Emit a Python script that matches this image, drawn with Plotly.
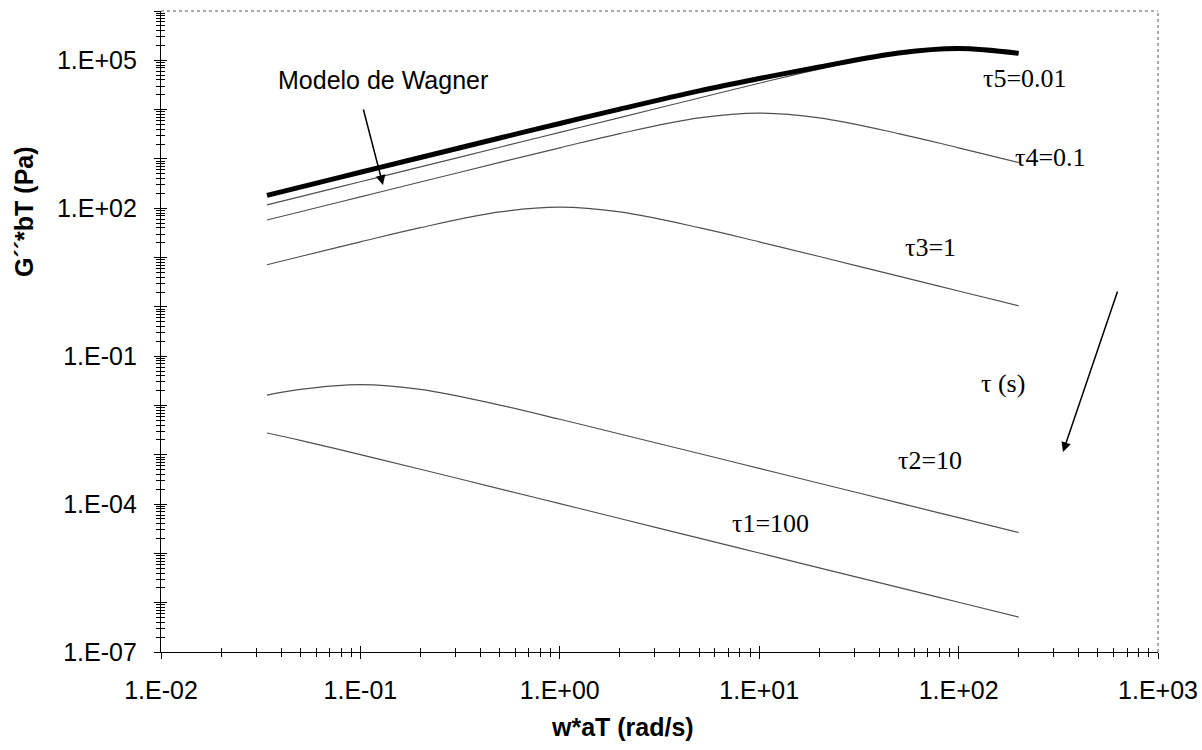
import plotly.graph_objects as go

# ---- data ----
w_at = [0.034, 0.05, 0.1, 0.2, 0.5, 1, 2, 5, 10, 20, 50, 100, 200]
wagner = [182, 268, 536, 1070, 2660, 5240, 10250, 24050, 42700, 73200, 141000, 174000, 139000]
tau5 = [117, 172, 345, 690, 1725, 3450, 6900, 17200, 34200, 66300, 138000, 172500, 138000]
tau4 = [57.8, 85, 170, 340, 848, 1680, 3270, 6800, 8500, 6800, 3270, 1680, 848]
tau3 = [7.13, 10.5, 20.8, 40.4, 84, 105, 84, 40.4, 20.8, 10.5, 4.2, 2.1, 1.05]
tau2 = [0.0162, 0.0212, 0.0265, 0.0212, 0.0102, 0.00525, 0.00264, 0.00106, 0.00053,
        0.000265, 0.000106, 0.000053, 0.0000265]
tau1 = [0.00276, 0.00196, 0.00101, 0.000509, 0.000204, 0.000102, 0.000051, 0.0000204,
        0.0000102, 0.0000051, 0.00000204, 0.00000102, 0.00000051]

x_decades = [-2, -1, 0, 1, 2, 3]
x_labels = ["1.E-02", "1.E-01", "1.E+00", "1.E+01", "1.E+02", "1.E+03"]
y_decades = list(range(-7, 7))
y_label_map = {-7: "1.E-07", -4: "1.E-04", -1: "1.E-01", 2: "1.E+02", 5: "1.E+05"}

fig = go.Figure()
thin = dict(color="#505050", width=1.2, shape="spline")
for ys in [tau1, tau2, tau3, tau4, tau5]:
    fig.add_trace(go.Scatter(x=w_at, y=ys, mode="lines", line=thin, hoverinfo="skip"))
fig.add_trace(go.Scatter(x=w_at, y=wagner, mode="lines",
                         line=dict(color="black", width=5, shape="spline"), hoverinfo="skip"))
# dummy trace so the overlay axes (crossing ticks) are drawn
fig.add_trace(go.Scatter(x=[1], y=[1], xaxis="x2", yaxis="y2", mode="markers",
                         marker=dict(opacity=0), hoverinfo="skip"))

x_tickvals = [10 ** d for d in x_decades]
x_minor = [m * 10 ** d for d in range(-2, 3) for m in range(2, 10)]
y_tickvals = [10 ** d for d in y_decades]
y_ticktext = [y_label_map.get(d, "") for d in y_decades]
y_minor = [m * 10 ** d for d in range(-7, 6) for m in range(2, 10)]

tickfont = dict(family="Liberation Sans, Arial", size=25, color="black")
titlefont = dict(family="Liberation Sans, Arial", size=25, color="black")

common_x = dict(type="log", range=[-2, 3], tickvals=x_tickvals, showgrid=False,
                zeroline=False, automargin=False)
common_y = dict(type="log", range=[-7, 6], tickvals=y_tickvals, showgrid=False,
                zeroline=False, automargin=False)

fig.update_layout(
    width=1202, height=750,
    margin=dict(l=161, r=44, t=11, b=98, autoexpand=False),
    paper_bgcolor="white", plot_bgcolor="white",
    showlegend=False,
    xaxis=dict(**common_x, ticktext=x_labels, ticks="outside", ticklen=6, tickcolor="black",
               showline=True, linecolor="black", linewidth=1.2,
               minor=dict(tickvals=x_minor, ticks="outside", ticklen=4, tickcolor="black"),
               tickfont=tickfont, ticklabelstandoff=10),
    yaxis=dict(**common_y, ticktext=y_ticktext, ticks="outside", ticklen=6, tickcolor="black",
               showline=True, linecolor="black", linewidth=1.2,
               minor=dict(tickvals=y_minor, ticks="outside", ticklen=4, tickcolor="black"),
               tickfont=tickfont, ticklabelstandoff=12),
    xaxis2=dict(**common_x, overlaying="x", anchor="y", side="bottom", ticks="inside",
                ticklen=6, tickcolor="black", showticklabels=False, showline=False,
                minor=dict(tickvals=x_minor, ticks="inside", ticklen=4, tickcolor="black")),
    yaxis2=dict(**common_y, overlaying="y", anchor="x", side="left", ticks="inside",
                ticklen=6, tickcolor="black", showticklabels=False, showline=False,
                minor=dict(tickvals=y_minor, ticks="inside", ticklen=4, tickcolor="black")),
    shapes=[
        dict(type="line", xref="paper", yref="paper", x0=0, x1=1, y0=1, y1=1,
             line=dict(color="#555555", width=1, dash="dot")),
        dict(type="line", xref="paper", yref="paper", x0=1, x1=1, y0=0, y1=1,
             line=dict(color="#555555", width=1, dash="dot")),
    ],
)

serif = dict(family="Liberation Serif, Times New Roman", size=26, color="black")
sans = dict(family="Liberation Sans, Arial", size=25, color="black")

def px(xp, yp):
    return (xp - 161) / 997, (652 - yp) / 641

anns = [
    ("Modelo de Wagner", 383, 80, sans),
    ("τ5=0.01", 1025, 78, serif),
    ("τ4=0.1", 1050, 157, serif),
    ("τ3=1", 930, 247, serif),
    ("τ (s)", 1003, 383, serif),
    ("τ2=10", 930, 460, serif),
    ("τ1=100", 770, 523, serif),
]
for text, xp, yp, f in anns:
    ax_, ay_ = px(xp, yp)
    fig.add_annotation(x=ax_, y=ay_, xref="paper", yref="paper", text=text,
                       showarrow=False, font=f, xanchor="center", yanchor="middle")

# axis titles
tx, ty = px(622, 727)
fig.add_annotation(x=tx, y=ty, xref="paper", yref="paper", text="<b>w*aT (rad/s)</b>",
                   showarrow=False, font=titlefont, xanchor="center", yanchor="middle")
tx, ty = px(24, 212)
fig.add_annotation(x=tx, y=ty, xref="paper", yref="paper", text="<b>G´´*bT (Pa)</b>",
                   showarrow=False, font=titlefont, xanchor="center", yanchor="middle",
                   textangle=-90)

# arrows
for (hx, hy, sx, sy) in [(383, 185, 363, 108), (1063, 452, 1118, 290)]:
    ax_, ay_ = px(hx, hy)
    fig.add_annotation(x=ax_, y=ay_, xref="paper", yref="paper", text="",
                       showarrow=True, arrowhead=2, arrowsize=1.3, arrowwidth=1.5,
                       arrowcolor="black", ax=sx - hx, ay=sy - hy)

fig.write_html("out.html")
